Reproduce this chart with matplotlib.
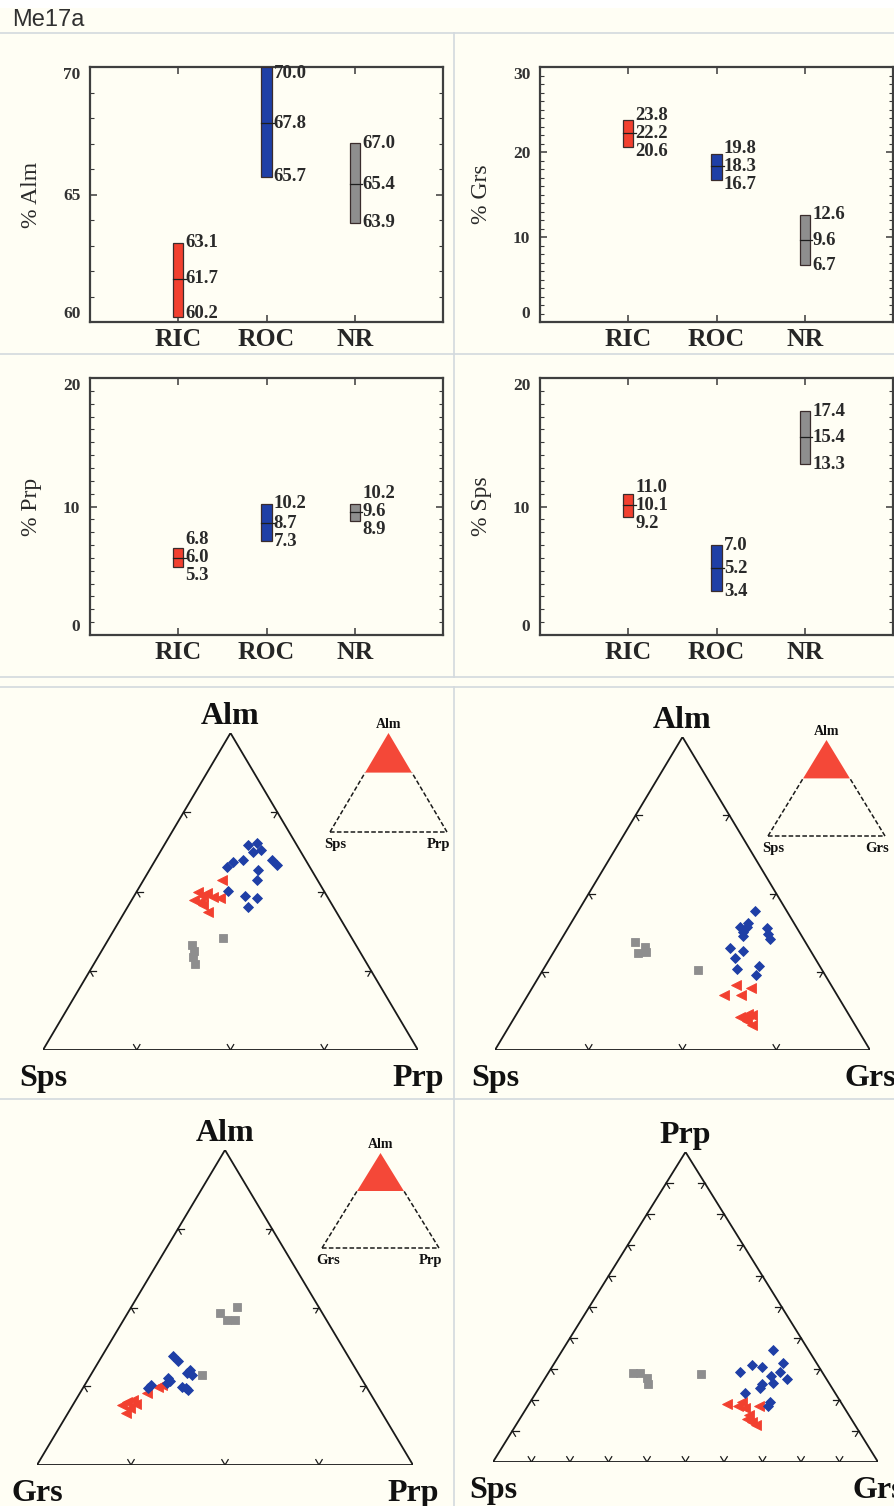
import matplotlib
matplotlib.use("Agg")
import matplotlib.pyplot as plt
from matplotlib.patches import Rectangle, Polygon
from matplotlib.lines import Line2D

W, H = 894, 1506
BG = "#fffef4"
RED = "#f2402f"
BLUE = "#1f3fa6"
GRAY = "#8e8e8e"
SERIF = ["Liberation Serif", "DejaVu Serif"]
SANS = ["Liberation Sans", "DejaVu Sans"]

# ---------------------------------------------------------------- data
groups = ["RIC", "ROC", "NR"]
group_colors = [RED, BLUE, GRAY]

# (min, median, max) in mol %
alm_stats = [(60.2, 61.7, 63.1), (65.7, 67.8, 70.0), (63.9, 65.4, 67.0)]
grs_stats = [(20.6, 22.2, 23.8), (16.7, 18.3, 19.8), (6.7, 9.6, 12.6)]
prp_stats = [(5.3, 6.0, 6.8), (7.3, 8.7, 10.2), (8.9, 9.6, 10.2)]
sps_stats = [(9.2, 10.1, 11.0), (3.4, 5.2, 7.0), (13.3, 15.4, 17.4)]

# ternary compositions, (apex, left, right) in %, recalculated to 100
# Alm - Sps - Prp
asp_ric = [(81.4, 10.2, 8.4), (79.9, 13.5, 6.6), (79.8, 12.6, 7.6), (78.9, 14.4, 6.7),
           (79.3, 12.2, 8.5), (79.2, 11.5, 9.3), (78.3, 13.8, 7.9), (77.4, 13.7, 8.9),
           (78.7, 13.9, 7.4), (79.4, 13.2, 7.4)]
asp_roc = [(85.9, 5.2, 8.9), (86.1, 4.1, 9.8), (85.2, 4.1, 10.7), (85.0, 5.1, 9.9),
           (84.0, 6.7, 9.3), (83.7, 7.9, 8.4), (83.1, 8.8, 8.1), (84.0, 3.6, 12.4),
           (83.4, 3.3, 13.3), (82.7, 5.7, 11.6), (81.4, 6.5, 12.1), (80.1, 10.2, 9.7),
           (79.4, 8.8, 11.8), (79.2, 7.6, 13.2), (78.0, 9.1, 12.9)]
asp_nr = [(73.2, 17.5, 9.3), (72.5, 17.6, 9.9), (71.7, 18.1, 10.2), (70.8, 18.4, 10.8),
          (74.1, 13.8, 12.1)]

# Alm - Sps - Grs
asg_ric = [(68.3, 10.1, 21.6), (67.9, 8.7, 23.4), (67.0, 12.1, 20.9), (67.0, 10.3, 22.7),
           (64.6, 10.7, 24.7), (64.1, 11.3, 24.6), (63.2, 11.0, 25.8), (63.7, 11.3, 25.0),
           (64.2, 11.8, 24.0), (64.5, 10.3, 25.2)]
asg_roc = [(77.8, 3.4, 18.8), (76.2, 4.9, 18.9), (75.7, 6.0, 18.3), (75.1, 6.0, 18.9),
           (74.6, 6.3, 19.1), (75.6, 3.2, 21.2), (74.8, 3.5, 21.7), (74.2, 3.6, 22.2),
           (73.0, 8.4, 18.6), (72.6, 7.3, 20.1), (71.8, 8.5, 19.7), (70.4, 9.0, 20.6),
           (70.7, 6.5, 22.8), (69.6, 7.4, 23.0), (75.7, 5.3, 19.0)]
asg_nr = [(73.8, 18.2, 8.0), (73.2, 17.4, 9.4), (72.4, 18.6, 9.0), (72.5, 17.6, 9.9),
          (70.2, 13.3, 16.5)]

# Alm - Grs - Prp
agp_ric = [(69.9, 22.2, 7.9), (70.2, 21.6, 8.2), (69.1, 23.7, 7.2), (68.0, 26.4, 5.6),
           (68.3, 25.6, 6.1), (67.2, 26.5, 6.3), (66.6, 27.2, 6.2), (67.6, 27.2, 5.2),
           (67.8, 25.6, 6.6)]
agp_roc = [(73.8, 18.6, 7.6), (73.2, 18.4, 8.4), (72.1, 17.7, 10.2), (71.4, 17.8, 10.8),
           (71.7, 18.2, 10.1), (71.0, 20.6, 8.4), (70.4, 21.0, 8.6), (70.2, 22.8, 7.0),
           (69.8, 23.3, 6.9), (69.9, 19.6, 10.5), (69.5, 19.2, 11.3), (69.8, 19.3, 10.9),
           (70.7, 20.5, 8.8)]
agp_nr = [(79.3, 10.9, 9.8), (80.1, 8.7, 11.2), (78.4, 10.6, 11.0), (78.4, 9.7, 11.9),
          (71.4, 16.8, 11.8)]

# Prp - Sps - Grs
psg_ric = [(18.6, 29.8, 51.6), (19.3, 25.6, 55.1), (17.3, 26.0, 56.7), (18.0, 22.0, 60.0),
           (13.8, 27.0, 59.2), (12.8, 26.4, 60.8), (11.8, 25.9, 62.3), (15.1, 25.9, 59.0),
           (18.0, 27.4, 54.6)]
psg_roc = [(36.0, 9.3, 54.7), (31.2, 17.2, 51.6), (28.9, 21.5, 49.6), (30.5, 15.0, 54.5),
           (31.8, 8.9, 59.3), (28.9, 10.9, 60.2), (26.7, 10.2, 63.1), (27.6, 14.1, 58.3),
           (25.4, 14.6, 60.0), (25.1, 17.7, 57.2), (23.8, 18.8, 57.4), (22.2, 23.5, 54.3),
           (19.3, 18.5, 62.2), (18.0, 19.6, 62.4)]
psg_nr = [(28.6, 49.4, 22.0), (28.6, 47.4, 24.0), (27.0, 46.6, 26.4), (25.1, 47.3, 27.6),
          (28.3, 31.7, 40.0)]

# ---------------------------------------------------------------- figure
fig = plt.figure(figsize=(W / 100, H / 100), dpi=100, facecolor=BG)


def px_axes(l, t, r, b):
    return fig.add_axes([l / W, 1 - b / H, (r - l) / W, (b - t) / H])


def fig_line(x0, y0, x1, y1, color="#d3d9de", lw=1.2):
    fig.add_artist(Line2D([x0 / W, x1 / W], [1 - y0 / H, 1 - y1 / H],
                          transform=fig.transFigure, color=color, lw=lw))


# header strip and cell borders
fig.add_artist(Rectangle((0, 1 - 8 / H), 1, 8 / H, transform=fig.transFigure,
                         facecolor="white", edgecolor="none"))
fig.text(12 / W, 1 - 20 / H, "Me17a", family=SANS, size=17, color="#303030",
         va="center", ha="left")
fig_line(0, 33, W, 33)
fig_line(0, 354, W, 354)
fig_line(0, 677, W, 677)
fig_line(0, 687, W, 687)
fig_line(0, 1099, W, 1099)
fig_line(454, 33, 454, 677)
fig_line(454, 687, 454, H)


# ---------------------------------------------------------------- range panels
def range_panel(box, stats, ylim, yticks, ylabel, gap_px=18):
    l, t, r, b = box
    ax = px_axes(l, t, r, b)
    ax.set_facecolor("none")
    ax.set_xlim(0, 4)
    ax.set_ylim(*ylim)
    h_px = b - t
    ppu = h_px / (ylim[1] - ylim[0])
    bw = 0.115
    for i, (lo, med, hi) in enumerate(stats):
        x = i + 1
        ax.add_patch(Rectangle((x - bw / 2, lo), bw, hi - lo, facecolor=group_colors[i],
                               edgecolor="#3a2c2c", lw=0.9, zorder=3))
        ax.plot([x - bw / 2, x + bw / 2 + 0.03], [med, med], color="#1e1e1e",
                lw=0.9, zorder=4)
        p_lo = (lo - ylim[0]) * ppu
        p_med = (med - ylim[0]) * ppu
        p_hi = (hi - ylim[0]) * ppu
        p_hi = max(p_hi, p_med + gap_px)
        p_lo = min(p_lo, p_med - gap_px)
        for val, p in ((hi, p_hi), (med, p_med), (lo, p_lo)):
            p = min(max(p, 8), h_px - 7)
            ax.annotate(f"{val:.1f}", xy=(x + bw / 2, ylim[0]), xycoords="data",
                        xytext=(1.6, p * 0.72), textcoords="offset points",
                        ha="left", va="center", family=SERIF, weight="bold",
                        size=13.5, color="#2a2a2a", annotation_clip=False, zorder=5)
    ax.set_xticks([1, 2, 3])
    ax.set_xticklabels(groups, family=SERIF, weight="bold", size=18.5, color="#262626")
    ax.set_yticks(yticks)
    ax.set_yticklabels([str(v) for v in yticks], family=SERIF, weight="bold",
                       size=12.5, color="#333333")
    labs = ax.get_yticklabels()
    labs[0].set_va("bottom")
    labs[-1].set_va("top")
    ax.yaxis.set_minor_locator(matplotlib.ticker.MultipleLocator(1))
    ax.tick_params(axis="both", which="both", direction="in", top=True, right=True,
                   color="#3a3a3a")
    ax.tick_params(axis="y", which="major", length=5, width=1.1, pad=7)
    ax.tick_params(axis="y", which="minor", length=3, width=0.8)
    ax.tick_params(axis="x", which="major", length=5, width=1.1, pad=4)
    for sp in ax.spines.values():
        sp.set_color("#3f3f3f")
        sp.set_linewidth(1.6)
    ax.set_ylabel(ylabel, family=SERIF, size=17, color="#2a2a2a")
    ax.yaxis.set_label_coords(-0.135, 0.5)
    return ax


range_panel((90, 67, 443, 322), alm_stats, (60, 70), [60, 65, 70], "% Alm")
range_panel((540, 67, 893, 322), grs_stats, (0, 30), [0, 10, 20, 30], "% Grs")
range_panel((90, 378, 443, 635), prp_stats, (0, 20), [0, 10, 20], "% Prp")
range_panel((540, 378, 893, 635), sps_stats, (0, 20), [0, 10, 20], "% Sps")


# ---------------------------------------------------------------- ternary panels
def tri_axes(left, apex_y, right, base_y):
    ax = px_axes(left, apex_y, right, base_y)
    ax.set_xlim(0, 1)
    ax.set_ylim(0, 1)
    ax.axis("off")
    return ax


def ternary_panel(geom, apex_min, names, series, nticks, inset=None):
    ax = tri_axes(*geom)
    span = 100.0 - apex_min

    def project(points):
        xs, ys = [], []
        for a, lft, rgt in points:
            tot = a + lft + rgt
            a, rgt = a * 100 / tot, rgt * 100 / tot
            hgt = (a - apex_min) / span
            xs.append(rgt / span + hgt / 2)
            ys.append(hgt)
        return xs, ys

    ax.add_patch(Polygon([(0, 0), (1, 0), (0.5, 1)], closed=True, fill=False,
                         edgecolor="#1a1a1a", lw=1.3, zorder=2))
    # grid stubs at each tick position
    d = 0.017
    for k in range(1, nticks + 1):
        f = k / (nticks + 1)
        bx, by = f, 0
        lx, ly = 0.5 * f, f
        rx, ry = 1 - 0.5 * f, f
        segs = [((bx, by), (bx + 0.5 * d, by + d)), ((bx, by), (bx - 0.5 * d, by + d)),
                ((lx, ly), (lx + d, ly)), ((lx, ly), (lx + 0.5 * d, ly - d)),
                ((rx, ry), (rx - d, ry)), ((rx, ry), (rx - 0.5 * d, ry - d))]
        for (x0, y0), (x1, y1) in segs:
            ax.plot([x0, x1], [y0, y1], color="#1a1a1a", lw=0.9, zorder=2)

    styles = [("<", RED, 7.5), ("D", BLUE, 5.0), ("s", GRAY, 5.6)]
    for pts, (mk, col, ms) in zip(series, styles):
        xs, ys = project(pts)
        ax.plot(xs, ys, ls="none", marker=mk, ms=ms, mfc=col, mec=col, mew=0.6,
                zorder=3, clip_on=False)

    top_name, left_name, right_name = names
    ax.text(0.5, 1.005, top_name, transform=ax.transAxes, ha="center", va="bottom",
            family=SERIF, weight="bold", size=23, color="#111111")
    ax.text(0.0, -0.045, left_name, transform=ax.transAxes, ha="center", va="top",
            family=SERIF, weight="bold", size=23, color="#111111")
    ax.text(1.0, -0.045, right_name, transform=ax.transAxes, ha="center", va="top",
            family=SERIF, weight="bold", size=23, color="#111111")

    if inset is not None:
        iax = tri_axes(*inset)
        f = apex_min / 100.0
        iax.add_patch(Polygon([(0.5 * f, f), (1 - 0.5 * f, f), (0.5, 1)], closed=True,
                              facecolor="#f44838", edgecolor="none", zorder=2))
        for xs, ys in (([0, 0.5 * f], [0, f]), ([1, 1 - 0.5 * f], [0, f]), ([0, 1], [0, 0])):
            iax.plot(xs, ys, color="#1a1a1a", lw=1.1, ls=(0, (3, 1.5)), zorder=3,
                     clip_on=False)
        iax.text(0.5, 1.02, top_name, transform=iax.transAxes, ha="center", va="bottom",
                 family=SERIF, weight="bold", size=10, color="#111111")
        iax.text(-0.05, -0.06, left_name, transform=iax.transAxes, ha="left", va="top",
                 family=SERIF, weight="bold", size=10.5, color="#111111")
        iax.text(1.03, -0.06, right_name, transform=iax.transAxes, ha="right", va="top",
                 family=SERIF, weight="bold", size=10.5, color="#111111")


ternary_panel((43, 733, 418, 1050), 60, ("Alm", "Sps", "Prp"),
              [asp_ric, asp_roc, asp_nr], 3, inset=(330, 733, 447, 832))
ternary_panel((495, 737, 870, 1050), 60, ("Alm", "Sps", "Grs"),
              [asg_ric, asg_roc, asg_nr], 3, inset=(768, 740, 885, 836))
ternary_panel((37, 1150, 413, 1465), 60, ("Alm", "Grs", "Prp"),
              [agp_ric, agp_roc, agp_nr], 3, inset=(322, 1153, 439, 1248))
ternary_panel((493, 1152, 878, 1462), 0, ("Prp", "Sps", "Grs"),
              [psg_ric, psg_roc, psg_nr], 9)

fig.savefig("out.png", dpi=100, facecolor=BG)
